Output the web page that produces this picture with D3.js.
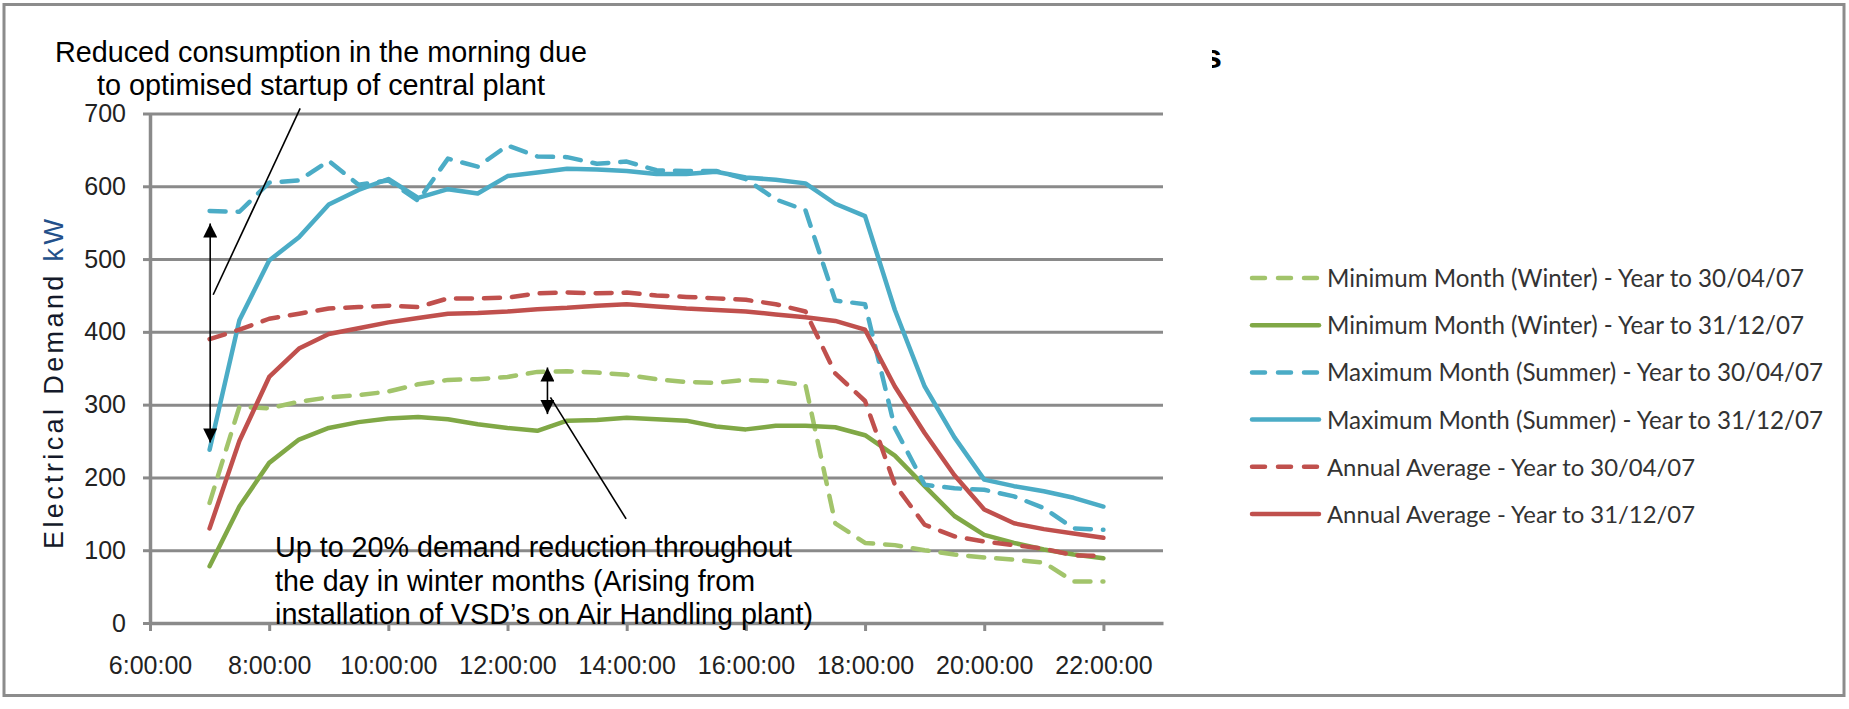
<!DOCTYPE html>
<html><head><meta charset="utf-8">
<script src="https://cdn.jsdelivr.net/npm/d3@7"></script>
<style>body{margin:0;background:#fff;} svg{display:block}</style>
</head><body><svg id="c" width="1849" height="709"></svg>
<script>
// ---------------- DATA ----------------
const times = [7,7.5,8,8.5,9,9.5,10,10.5,11,11.5,12,12.5,13,13.5,14,14.5,15,15.5,16,16.5,17,17.5,18,18.5,19,19.5,20,20.5,21,21.5,22];
const tickHours = [6,8,10,12,14,16,18,20,22];
const yTicks = [0,100,200,300,400,500,600,700];
const seriesNames = [
  "Minimum Month (Winter) - Year to 30/04/07",
  "Minimum Month (Winter) - Year to 31/12/07",
  "Maximum Month (Summer) - Year to 30/04/07",
  "Maximum Month (Summer) - Year to 31/12/07",
  "Annual Average - Year to 30/04/07",
  "Annual Average - Year to 31/12/07"
];
const minWinterApr07 = [165,297,295,304,310,313,318,328,334,335,338,345,346,344,341,335,331,330,334,332,327,137,110,107,100,94,90,87,83,57,57];
const minWinterDec07 = [78,160,220,252,268,276,281,283,280,273,268,264,278,279,282,280,278,270,266,271,271,269,258,230,188,147,121,110,101,94,89];
const maxSummerApr07 = [566,565,605,608,635,602,608,580,638,627,656,641,640,631,634,622,621,621,610,582,567,443,438,268,190,185,183,174,158,130,128];
const maxSummerDec07 = [238,416,498,530,575,595,610,584,596,590,614,619,624,623,621,617,617,620,612,609,604,576,559,430,325,255,197,188,181,172,160];
const avgApr07 = [390,403,418,425,432,434,436,434,446,446,447,453,454,453,454,450,448,446,444,438,428,343,305,190,135,119,112,107,102,93,92];
const avgDec07 = [130,250,338,377,397,405,413,419,425,426,428,431,433,436,438,435,432,430,428,424,420,415,403,325,261,203,156,137,129,123,117];
const seriesValues = [minWinterApr07, minWinterDec07, maxSummerApr07, maxSummerDec07, avgApr07, avgDec07];
const annotTop = ["Reduced consumption in the morning due", "to optimised startup of central plant"];
const annotBottom = ["Up to 20% demand reduction throughout", "the day in winter months (Arising from", "installation of VSD\u2019s on Air Handling plant)"];
const yTitle = ["Electrical Demand ", "kW"];

// ---------------- STYLES ----------------
const seriesColors = ["#a2c46b","#80a846","#4bacc6","#4bacc6","#c0504d","#c0504d"];
const seriesDashed = [true,false,true,false,true,false];

// ---------------- LAYOUT ----------------
const svg = d3.select('#c');
const M = {left:150, right:1163, top:113.5, bottom:623};
const x = d3.scaleLinear().domain([6,23]).range([M.left, M.right]);
const y = d3.scaleLinear().domain([0,700]).range([M.bottom, M.top]);
const axisColor = '#8a8a8a';
const labelFont = "'Liberation Sans', Arial, sans-serif";

function fit(sel, target, keepSize){
  const n = sel.node();
  const w = n.getComputedTextLength();
  const fs = parseFloat(sel.attr('font-size'));
  if(!keepSize) sel.attr('font-size', (fs*target/w).toFixed(2));
  sel.attr('textLength', target).attr('lengthAdjust', keepSize ? 'spacing' : 'spacingAndGlyphs');
}

// frame
svg.append('rect').attr('x',4).attr('y',4.5).attr('width',1840).attr('height',691)
  .attr('fill','#fff').attr('stroke','#8c8c8c').attr('stroke-width',3);

// hidden-title fragment
svg.append('clipPath').attr('id','sclip').append('rect').attr('x',1212).attr('y',30).attr('width',30).attr('height',50);
svg.append('text').attr('x',1203).attr('y',68).attr('font-family',labelFont).attr('font-weight','bold')
  .attr('font-size',34).attr('fill','#000').attr('clip-path','url(#sclip)').text('s');

// gridlines
const grid = svg.append('g').attr('transform',`translate(${M.left},0)`)
  .call(d3.axisLeft(y).tickValues(yTicks.filter(v=>v>0)).tickSize(-(M.right-M.left)).tickFormat(''));
grid.select('.domain').remove();
grid.selectAll('line').attr('stroke',axisColor).attr('stroke-width',3);

// y axis
const ya = svg.append('g').attr('transform',`translate(${M.left},0)`)
  .call(d3.axisLeft(y).tickValues(yTicks).tickSize(7).tickPadding(17).tickSizeOuter(0).tickFormat(d3.format('d')));
ya.select('.domain').attr('stroke',axisColor).attr('stroke-width',3.5);
ya.selectAll('line').attr('stroke',axisColor).attr('stroke-width',3);
ya.selectAll('text').attr('font-family',labelFont).attr('font-size',25).attr('fill','#222');

// x axis
const xa = svg.append('g').attr('transform',`translate(0,${M.bottom})`)
  .call(d3.axisBottom(x).tickValues(tickHours).tickSize(8).tickPadding(25).tickSizeOuter(0).tickFormat(h=>h+':00:00'));
xa.select('.domain').attr('stroke',axisColor).attr('stroke-width',3.5);
xa.selectAll('line').attr('stroke',axisColor).attr('stroke-width',3);
xa.selectAll('text').attr('font-family',labelFont).attr('font-size',25).attr('fill','#222');

// y axis title
const yt = svg.append('text').attr('transform','translate(63,384) rotate(-90)')
  .attr('text-anchor','middle').attr('font-family',labelFont).attr('font-size',27).attr('fill','#141a2a');
yt.append('tspan').text(yTitle[0]);
yt.append('tspan').attr('fill','#23508a').text(yTitle[1]);
fit(yt, 330, true);

// series
const line = d3.line().x((d,i)=>x(times[i])).y(d=>y(d));
seriesValues.forEach((vals,k)=>{
  svg.append('path').datum(vals).attr('d',line).attr('fill','none')
    .attr('stroke',seriesColors[k]).attr('stroke-width',4.5)
    .attr('stroke-linejoin','round').attr('stroke-linecap','round')
    .attr('stroke-dasharray', seriesDashed[k] ? '16 12' : null);
});

// annotations
const ann = svg.append('g').attr('font-family',labelFont).attr('fill','#000');
annotTop.forEach((t,i)=>{
  const s = ann.append('text').attr('x',321).attr('y',62+i*33).attr('text-anchor','middle').attr('font-size',28).text(t);
  fit(s, [532,448][i]);
});
annotBottom.forEach((t,i)=>{
  const s = ann.append('text').attr('x',275).attr('y',557+i*33.5).attr('font-size',27).text(t);
  fit(s, [517,480,538][i]);
});

const defs = svg.append('defs');
defs.append('marker').attr('id','ah').attr('viewBox','0 0 10 10').attr('refX',10).attr('refY',5)
  .attr('markerWidth',15).attr('markerHeight',14).attr('markerUnits','userSpaceOnUse').attr('orient','auto-start-reverse')
  .append('path').attr('d','M0,0 L10,5 L0,10 Z').attr('fill','#000');

const arrows = svg.append('g').attr('stroke','#000').attr('stroke-width',1.6).attr('fill','none');
// left double arrow (morning)
arrows.append('line').attr('x1',x(7.01)).attr('y1',y(549)).attr('x2',x(7.01)).attr('y2',y(248))
  .attr('marker-start','url(#ah)').attr('marker-end','url(#ah)');
// pointer from top text
arrows.append('line').attr('x1',x(8.52)).attr('y1',y(707)).attr('x2',x(7.06)).attr('y2',y(451));
// small double arrow (winter)
arrows.append('line').attr('x1',x(12.67)).attr('y1',y(351)).attr('x2',x(12.67)).attr('y2',y(287))
  .attr('marker-start','url(#ah)').attr('marker-end','url(#ah)');
// pointer from bottom text
arrows.append('line').attr('x1',x(13.99)).attr('y1',y(143)).attr('x2',x(12.72)).attr('y2',y(310));

// legend
const lg = svg.append('g');
seriesNames.forEach((name,k)=>{
  const cy = 278 + k*47.2;
  lg.append('line').attr('x1',1252).attr('x2',1319).attr('y1',cy).attr('y2',cy)
    .attr('stroke',seriesColors[k]).attr('stroke-width',4.5).attr('stroke-linecap','round')
    .attr('stroke-dasharray', seriesDashed[k] ? '13 13' : null);
  const t = lg.append('text').attr('x',1327).attr('y',cy+9).attr('font-family',"Lato, 'Open Sans', sans-serif")
    .attr('font-size',24).attr('fill','#333').text(name);
  fit(t, [477,477,496,496,368,368][k]);
});
</script>
</body></html>
